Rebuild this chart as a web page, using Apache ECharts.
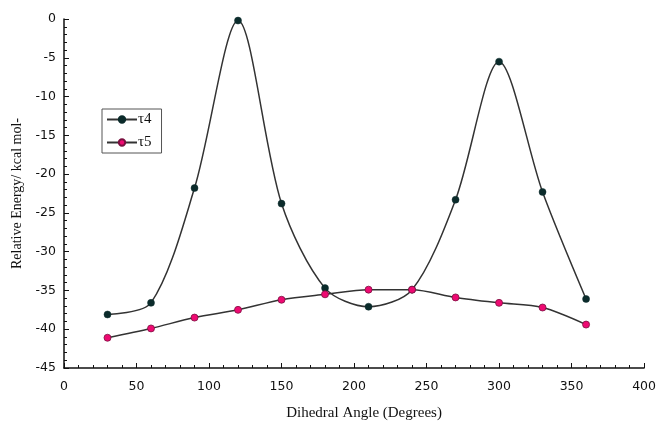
<!DOCTYPE html>
<html>
<head>
<meta charset="utf-8">
<script src="https://cdn.jsdelivr.net/npm/echarts@6/dist/echarts.min.js"></script>
<style>
  html, body { margin: 0; padding: 0; background: #fff; }
  #chart { width: 659px; height: 428px; }
</style>
</head>
<body>
<div id="chart"></div>
<script>
// dihedral angle (degrees)
let angles = [30, 60, 90, 120, 150, 180, 210, 240, 270, 300, 330, 360];
// relative energy, kcal/mol
let tau4 = [-38.1, -36.6, -21.8, -0.2, -23.8, -34.7, -37.1, -34.9, -23.3, -5.5, -22.3, -36.1];
let tau5 = [-41.1, -39.9, -38.5, -37.5, -36.2, -35.5, -34.9, -34.9, -35.9, -36.6, -37.2, -39.4];

let chart = echarts.init(document.getElementById("chart"));

function pairs(vals) {
    return angles.map((a, i) => [a, vals[i]]);
}

let axisText = { color: "#111", fontFamily: "DejaVu Sans", fontSize: 12.5 };

chart.setOption({
    animation: false,
    grid: { left: 64, right: 13, top: 19, bottom: 60 },
    legend: {
        orient: "vertical",
        left: 102,
        top: 109,
        padding: [3, 10, 3, 4],
        itemGap: 8,
        itemWidth: 30,
        itemHeight: 8,
        borderColor: "#555",
        borderWidth: 1,
        textStyle: { fontFamily: "Liberation Serif", fontSize: 15, color: "#111", padding: [0, 0, 0, -4] },
        data: ["τ4", "τ5"]
    },
    xAxis: {
        type: "value",
        min: 0,
        max: 400,
        interval: 50,
        name: "Dihedral Angle (Degrees)",
        nameLocation: "middle",
        nameGap: 38,
        nameTextStyle: { fontFamily: "Liberation Serif", fontSize: 15, color: "#111", padding: [0, 0, 0, 20] },
        axisLine: { onZero: false, lineStyle: { color: "#111", width: 1.5 } },
        axisTick: { inside: true, length: 5, lineStyle: { color: "#111" } },
        minorTick: { show: true, splitNumber: 5, length: 3, lineStyle: { color: "#111" } },
        splitLine: { show: false },
        axisLabel: Object.assign({ margin: 12 }, axisText)
    },
    yAxis: {
        type: "value",
        min: -45,
        max: 0,
        interval: 5,
        name: "Relative Energy/ kcal mol-",
        nameLocation: "middle",
        nameGap: 35,
        nameTextStyle: { fontFamily: "Liberation Serif", fontSize: 14, color: "#111" },
        axisLine: { onZero: false, lineStyle: { color: "#111", width: 1.5 } },
        axisTick: { inside: true, length: 5, lineStyle: { color: "#111" } },
        minorTick: { show: true, splitNumber: 5, length: 3, lineStyle: { color: "#111" } },
        splitLine: { show: false },
        axisLabel: Object.assign({ margin: 8 }, axisText)
    },
    series: [
        {
            name: "τ4",
            type: "line",
            data: pairs(tau4),
            smooth: 0.3,
            symbol: "circle",
            symbolSize: 7,
            lineStyle: { color: "#333", width: 1.5 },
            itemStyle: { color: "#0b2b2b", borderColor: "#0b2b2b", borderWidth: 0.5 },
            z: 3
        },
        {
            name: "τ5",
            type: "line",
            data: pairs(tau5),
            smooth: 0.3,
            symbol: "circle",
            symbolSize: 7,
            lineStyle: { color: "#333", width: 1.5 },
            itemStyle: { color: "#ee0a72", borderColor: "#7a1040", borderWidth: 0.8 },
            z: 4
        }
    ]
});

window.addEventListener("resize", function () {
    chart.resize();
});
</script>
</body>
</html>
